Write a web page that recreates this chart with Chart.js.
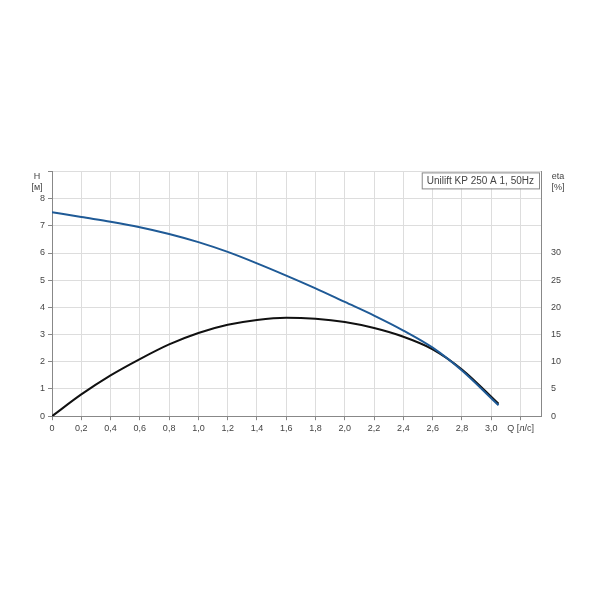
<!DOCTYPE html><html><head><meta charset="utf-8">
<script src="https://cdn.jsdelivr.net/npm/chart.js@4"></script>
<style>body{margin:0;background:#fff}#w{position:absolute;left:22px;top:160px;width:556px;height:277px}</style></head><body>
<div id="w"><canvas id="c"></canvas></div>
<script>
const qValues=[0,0.2,0.4,0.6,0.8,1.0,1.2,1.4,1.6,1.8,2.0,2.2,2.4,2.6,2.8,3.05];
const headValues=[7.5,7.32,7.15,6.95,6.7,6.4,6.04,5.62,5.17,4.7,4.2,3.7,3.15,2.52,1.68,0.4];
const etaValues=[0,4,7.5,10.5,13.2,15.3,16.8,17.7,18.1,17.9,17.3,16.2,14.6,12.3,8.6,2.3];
const seriesName='Unilift KP 250 A 1, 50Hz';
const f='Arial, "Liberation Sans", sans-serif';
const txt='#444';
const extra={id:'extra',afterDraw(ch){const c=ch.ctx,a=ch.chartArea;c.save();c.font='9px '+f;c.fillStyle=txt;c.textAlign='center';
c.fillText('H',a.left-15,a.top+8);c.fillText('[м]',a.left-15,a.top+19);
c.fillText('eta',a.right+17,a.top+8);c.fillText('[%]',a.right+17,a.top+19);
c.font='10px '+f;const w=c.measureText(seriesName).width+10;c.strokeStyle='#888';c.lineWidth=1;c.fillStyle='#fff';
c.fillRect(a.right-w-2,a.top+1,w,16);c.strokeRect(a.right-w-2+.5,a.top+1.5,w,16);c.fillStyle=txt;c.textAlign='left';c.fillText(seriesName,a.right-w+3,a.top+13);c.restore();}};
new Chart(document.getElementById('c'),{type:'line',data:{datasets:[
{data:qValues.map((q,i)=>({x:q,y:headValues[i]})),yAxisID:'y',borderColor:'#1f5a96',borderWidth:2,pointRadius:0,cubicInterpolationMode:'monotone'},
{data:qValues.map((q,i)=>({x:q,y:etaValues[i]})),yAxisID:'y2',borderColor:'#111',borderWidth:2,pointRadius:0,cubicInterpolationMode:'monotone'}]},
options:{animation:false,responsive:true,maintainAspectRatio:false,plugins:{legend:{display:false},tooltip:{enabled:false}},
layout:{padding:{top:5,right:0}},
scales:{x:{type:'linear',min:0,max:3.34,afterBuildTicks(s){s.ticks=[];for(let i=0;i<=16;i++)s.ticks.push({value:i*0.2});},
ticks:{color:txt,font:{size:9,family:f},maxRotation:0,callback:v=>{const r=Math.round(v*10);if(r===32)return 'Q [л/с]';return r===0?'0':(r/10).toFixed(1).replace('.',',');}},
grid:{color:'#ddd',tickLength:4,tickColor:'#888'},border:{color:'#888'}},
y:{min:0,max:9,afterBuildTicks(s){s.ticks=[];for(let i=0;i<=9;i++)s.ticks.push({value:i});},ticks:{color:txt,font:{size:9,family:f},callback:v=>v<=8?String(v):''},grid:{color:'#ddd',tickLength:4,tickColor:'#888'},border:{color:'#888'},afterFit(s){s.width=30;}},
y2:{position:'right',min:0,max:45,afterBuildTicks(s){s.ticks=[];for(let i=0;i<=9;i++)s.ticks.push({value:i*5});},ticks:{color:txt,font:{size:9,family:f},padding:6,callback:v=>v<=30?String(v):''},grid:{display:false,drawOnChartArea:false,tickLength:4},border:{color:'#888'},afterFit(s){s.width=37;}}}},
plugins:[extra]});
</script></body></html>
